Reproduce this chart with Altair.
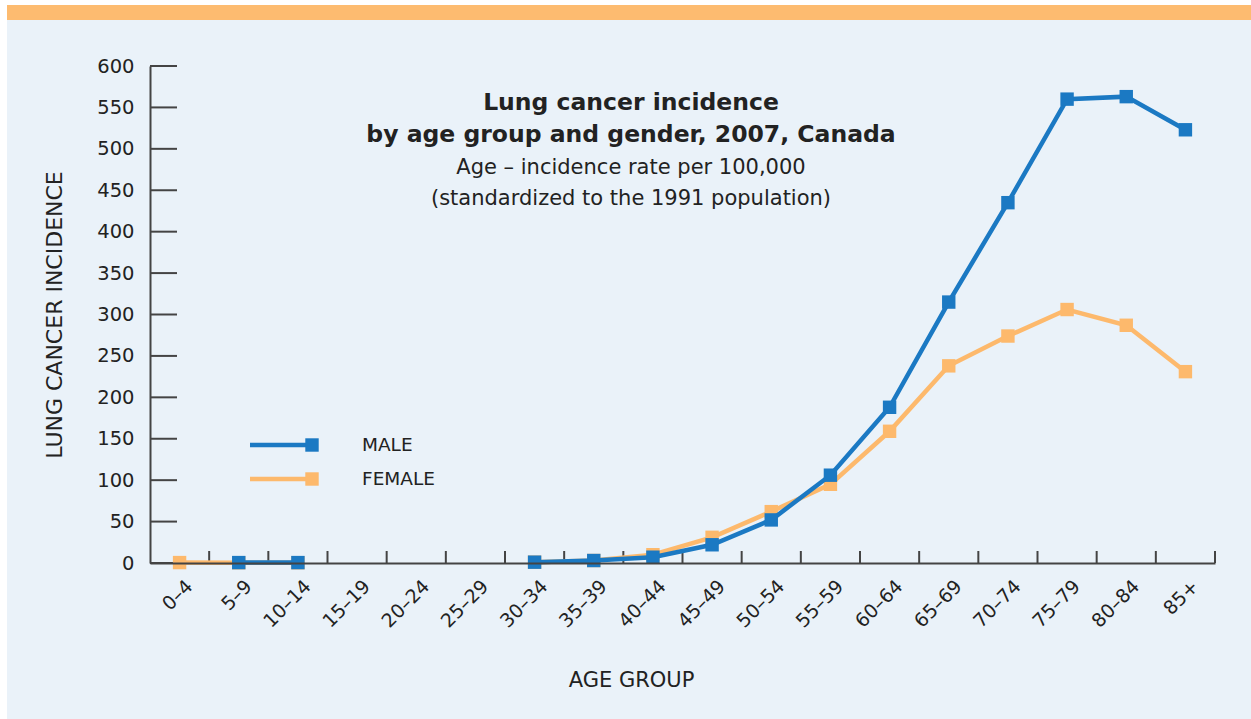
import altair as alt
import pandas as pd

# Age groups and incidence rates per 100,000 (None = no reported cases)
age_groups = ["0–4", "5–9", "10–14", "15–19", "20–24", "25–29", "30–34", "35–39",
              "40–44", "45–49", "50–54", "55–59", "60–64", "65–69", "70–74",
              "75–79", "80–84", "85+"]
male = [None, 0.5, 0.5, None, None, None, 1, 3, 7, 22, 52, 106, 188, 315, 435,
        560, 563, 523]
female = [0.5, 0.3, 0.3, None, None, None, 1, 3, 10, 31, 62, 95, 159, 238, 274,
          306, 287, 231]
y_ticks = list(range(0, 601, 50))

MALE_COLOR = "#1b79c3"
FEMALE_COLOR = "#fdb96c"
PANEL = "#eaf2f9"
BAR = "#fdbb70"
AXIS = "#444444"
TEXT = "#222222"
FONT = "DejaVu Sans"

W, H = 1065, 497

df = pd.DataFrame({"age": age_groups, "male": male, "female": female})
ticks_df = pd.DataFrame({"v": y_ticks})
one = pd.DataFrame({"k": [0]})  # single row for decorations and text

x_scale = alt.Scale(type="band", domain=age_groups, paddingInner=0, paddingOuter=0)
y_scale = alt.Scale(domain=[0, 600], nice=False, zero=True)

x_axis = alt.Axis(
    title="AGE GROUP", labelAngle=315, labelAlign="right", labelBaseline="middle",
    labelPadding=20, labelOffset=10, labelFontSize=19, labelColor=TEXT,
    labelFont=FONT, tickSize=0, domainColor=AXIS, domainWidth=2, grid=False,
    zindex=1, titleFont=FONT, titleFontSize=21, titleFontWeight="normal",
    titleColor=TEXT, titleX=481, titleY=117, titleBaseline="middle",
    titleAlign="center",
)
y_axis = alt.Axis(
    title="LUNG CANCER INCIDENCE", values=y_ticks, labelPadding=16,
    labelFontSize=19.5, labelColor=TEXT, labelFont=FONT, tickSize=0,
    domainColor=AXIS, domainWidth=2, grid=False, zindex=1,
    titleFont=FONT, titleFontSize=22, titleFontWeight="normal", titleColor=TEXT,
    titlePadding=30,
)


def xenc(**kw):
    return alt.X("age:N", scale=x_scale, sort=age_groups, axis=x_axis, **kw)


def yenc(field):
    return alt.Y(f"{field}:Q", scale=y_scale, axis=y_axis)


# page decoration: light panel and orange band along the top
panel = alt.Chart(one).mark_rect(color=PANEL).encode(
    x=alt.value(-143), x2=alt.value(1101), y=alt.value(-46), y2=alt.value(653)
)
band = alt.Chart(one).mark_rect(color=BAR).encode(
    x=alt.value(-143), x2=alt.value(1101), y=alt.value(-61), y2=alt.value(-46)
)

# inward tick marks
y_tick_marks = alt.Chart(ticks_df).mark_rule(color=AXIS, strokeWidth=2).encode(
    y=yenc("v"), x=alt.value(0), x2=alt.value(27)
)
x_tick_marks = alt.Chart(df).mark_rule(color=AXIS, strokeWidth=2).encode(
    x=xenc(bandPosition=1), y=alt.value(H - 12), y2=alt.value(H)
)


def series(field, color):
    line = alt.Chart(df).mark_line(
        color=color, strokeWidth=4.5, invalid="break-paths-show-domains"
    ).encode(x=xenc(), y=yenc(field))
    pts = alt.Chart(df).mark_point(
        shape="square", filled=True, opacity=1, size=180, color=color
    ).encode(x=xenc(), y=yenc(field))
    return line + pts


female_layer = series("female", FEMALE_COLOR)
male_layer = series("male", MALE_COLOR)


def label(text, x, y, size, weight="normal", align="center"):
    return alt.Chart(one).mark_text(
        text=text, font=FONT, fontSize=size, fontWeight=weight, color=TEXT,
        align=align, baseline="middle",
    ).encode(x=alt.value(x), y=alt.value(y))


# titles inside the plot area
titles = (
    label("Lung cancer incidence", 481, 37, 23.5, "bold")
    + label("by age group and gender, 2007, Canada", 481, 69, 23.5, "bold")
    + label("Age – incidence rate per 100,000", 481, 102, 21)
    + label("(standardized to the 1991 population)", 481, 133, 21)
)


def legend_item(name, color, y):
    ln = alt.Chart(one).mark_rule(color=color, strokeWidth=4.5).encode(
        x=alt.value(100), x2=alt.value(162), y=alt.value(y)
    )
    sq = alt.Chart(one).mark_point(
        shape="square", filled=True, opacity=1, size=180, color=color
    ).encode(x=alt.value(162), y=alt.value(y))
    return ln + sq + label(name, 212, y, 18.5, align="left")


legend = legend_item("MALE", MALE_COLOR, 379) + legend_item("FEMALE", FEMALE_COLOR, 413)

chart = alt.layer(
    panel, band, y_tick_marks, x_tick_marks, female_layer, male_layer, titles, legend
).properties(
    width=W, height=H,
    autosize=alt.AutoSizeParams(type="none"),
    padding={"left": 150, "top": 66, "right": 36, "bottom": 156},
    background="white",
).configure_view(stroke=None)

chart.save("out.html", embed_options={"renderer": "svg", "actions": False})
